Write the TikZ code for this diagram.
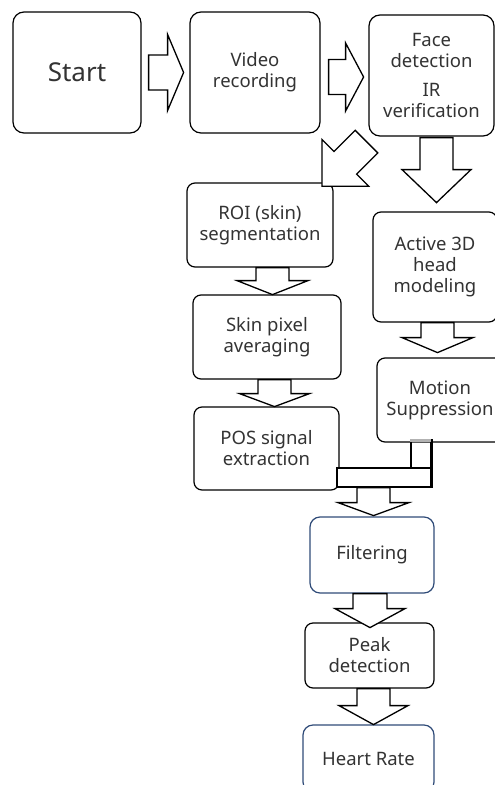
\documentclass[tikz,border=0pt]{standalone}
\usepackage{fontspec}
\setmainfont{Noto Sans}
\usetikzlibrary{calc}

\definecolor{navy}{RGB}{47,75,120}
\definecolor{txt}{RGB}{51,51,51}

% block arrow: start, angle, length, shaft half width, head half width, head length
\newcommand{\blockarrow}[6]{%
  \draw[blockarr,shift={#1},rotate=#2] (0,#4) -- ({#3-#6},#4) -- ({#3-#6},#5) -- (#3,0)
    -- ({#3-#6},-#5) -- ({#3-#6},-#4) -- (0,-#4) -- cycle;}

\tikzset{
  box/.style={draw,line width=1.2pt,rounded corners=8pt,align=center,text=txt,
    inner sep=2pt,font=\fontsize{18.5}{21}\selectfont},
  bigbox/.style={box,rounded corners=11pt},
  navybox/.style={box,draw=navy,rounded corners=10pt},
  blockarr/.style={draw,line width=1.3pt,fill=white,line join=miter}
}

\begin{document}
\begin{tikzpicture}[x=1pt,y=-1pt]
  \useasboundingbox (0,0) rectangle (495,785);
  \clip (0,0) rectangle (495,785);
  % Top row
  \node[bigbox,minimum width=128pt,minimum height=121pt,font=\fontsize{26}{30}\selectfont] (start) at (77,72.5) {Start};
  \node[bigbox,minimum width=130pt,minimum height=121pt] (video) at (255,72.5) {Video\\recording};
  \node[bigbox,minimum width=125pt,minimum height=121pt] (face) at (431.5,75.5) {Face\\detection\\[8pt]IR\\verification};
  % Left branch
  \node[box,minimum width=146pt,minimum height=84pt] (roi) at (260,225) {ROI (skin)\\segmentation};
  \node[box,minimum width=148pt,minimum height=84pt] (skin) at (267,337) {Skin pixel\\averaging};
  \node[box,minimum width=145pt,minimum height=83pt] (pos) at (266.5,448.5) {POS signal\\extraction};
  % Right branch
  \node[box,minimum width=124pt,minimum height=110pt] (active) at (435,267) {Active 3D\\head\\modeling};
  \node[box,minimum width=126pt,minimum height=84pt] (motion) at (440,400) {Motion\\Suppression};
  % Joint
  \node[draw,line width=1.2pt,minimum width=20pt,minimum height=28pt,inner sep=0pt] (stem) at (421,454) {};
  \fill[gray!60] (stem.north west) rectangle ($(stem.north east)+(0,3)$);
  \node[draw,line width=1.2pt,fill=white,minimum width=94pt,minimum height=19pt,inner sep=0pt] (bar) at (384,477.5) {};
  \draw[line width=2pt] (stem.north east) -- (bar.south east);
  % Bottom column
  \node[navybox,minimum width=124pt,minimum height=76pt] (filter) at (372,555) {Filtering};
  \node[box,minimum width=129pt,minimum height=65pt] (peak) at (369.5,655.5) {Peak\\detection};
  \node[navybox,minimum width=131pt,minimum height=67pt] (heart) at (368.5,758.5) {Heart Rate};
  % Arrows
  \blockarrow{($(start.east)+(7,0)$)}{0}{35}{17.5}{38}{16}
  \blockarrow{($(video.east)+(8,4.5)$)}{0}{35}{17.5}{34}{18}
  \blockarrow{($(face.south)+(-65,5)$)}{225}{63}{16}{33}{33}
  \blockarrow{($(face.south)+(5,1)$)}{270}{65}{16.5}{34.5}{33}
  \blockarrow{($(roi.south)+(12.5,0)$)}{270}{27}{16.5}{35.5}{14}
  \blockarrow{($(skin.south)+(7.5,0)$)}{270}{27}{16.5}{35}{13}
  \blockarrow{($(active.south)+(2.5,0)$)}{270}{30}{16.5}{35.5}{15}
  \blockarrow{($(bar.south)+(-10.5,0)$)}{270}{28}{16.5}{35.5}{13}
  \blockarrow{($(filter.south)+(-2,0)$)}{270}{34}{17}{35}{19}
  \blockarrow{($(peak.south)+(4,0)$)}{270}{36}{16.5}{34.5}{19}
\end{tikzpicture}
\end{document}
